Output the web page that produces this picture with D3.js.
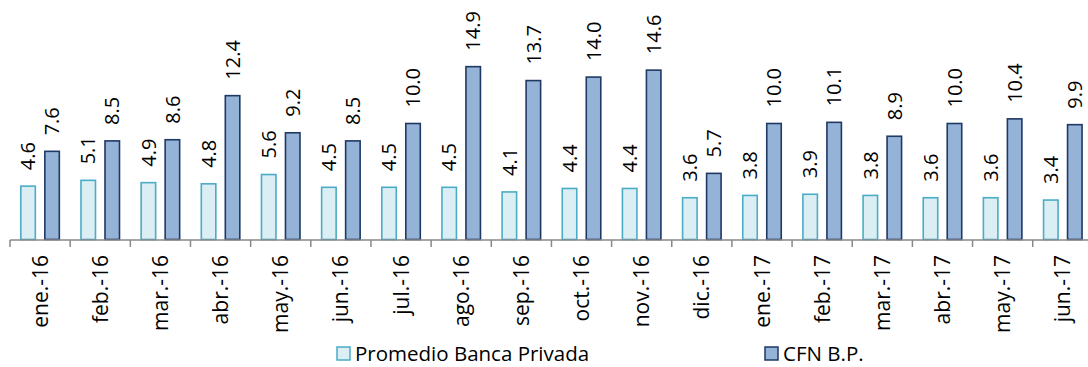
<!DOCTYPE html>
<html>
<head>
<meta charset="utf-8">
<script src="https://cdn.jsdelivr.net/npm/d3@7"></script>
<style>
  html, body { margin: 0; padding: 0; background: #fff; }
  svg { display: block; font-family: "Open Sans", "Liberation Sans", sans-serif; }
</style>
</head>
<body>
<svg id="chart" width="1088" height="367"></svg>
<script>
// Monthly categories
const categories = ["ene.-16", "feb.-16", "mar.-16", "abr.-16", "may.-16", "jun.-16",
  "jul.-16", "ago.-16", "sep.-16", "oct.-16", "nov.-16", "dic.-16",
  "ene.-17", "feb.-17", "mar.-17", "abr.-17", "may.-17", "jun.-17"];

// Series values
const seriesNames = ["Promedio Banca Privada", "CFN B.P."];
const promedioBancaPrivada = [4.6, 5.1, 4.9, 4.8, 5.6, 4.5, 4.5, 4.5, 4.1, 4.4, 4.4, 3.6, 3.8, 3.9, 3.8, 3.6, 3.6, 3.4];
const cfnBP = [7.6, 8.5, 8.6, 12.4, 9.2, 8.5, 10.0, 14.9, 13.7, 14.0, 14.6, 5.7, 10.0, 10.1, 8.9, 10.0, 10.4, 9.9];
const seriesValues = [promedioBancaPrivada, cfnBP];

const fills = ["#DAEEF3", "#95B3D7"];
const strokes = ["#4BACC6", "#1F3864"];

const svg = d3.select("#chart");

const step = 60.16;
const x0 = d3.scaleBand()
  .domain(categories)
  .range([10, 10 + step * categories.length])
  .padding(0);

const x1 = d3.scaleBand()
  .domain(seriesNames)
  .range([0, x0.bandwidth()])
  .paddingInner(1 / 3)
  .paddingOuter(0.42);

const y = d3.scaleLinear()
  .domain([0, 16])
  .range([239.5, 239.5 - 16 * 11.6]);

// Bars with value labels
const groups = svg.append("g")
  .selectAll("g")
  .data(categories)
  .join("g")
  .attr("transform", d => `translate(${x0(d)},0)`);

groups.each(function (cat, i) {
  const g = d3.select(this);
  seriesNames.forEach((s, k) => {
    const v = seriesValues[k][i];
    const bx = x1(s);
    const bw = x1.bandwidth();
    g.append("rect")
      .attr("x", bx + 0.75)
      .attr("y", y(v))
      .attr("width", bw - 1.5)
      .attr("height", y(0) - y(v))
      .attr("fill", fills[k])
      .attr("stroke", strokes[k])
      .attr("stroke-width", 1.6);
    g.append("text")
      .attr("transform", `translate(${bx + bw / 2},${y(v) - 16}) rotate(-90)`)
      .attr("text-anchor", "start")
      .attr("dy", "0.36em")
      .attr("font-size", 20)
      .attr("fill", "#000")
      .text(v.toFixed(1));
  });
});

// Category axis
const axisG = svg.append("g")
  .attr("transform", `translate(0,${y(0) + 0.5})`);

axisG.append("line")
  .attr("x1", x0.range()[0])
  .attr("x2", x0.range()[1])
  .attr("stroke", "#898989")
  .attr("stroke-width", 1.5);

axisG.selectAll("line.tick")
  .data(d3.range(categories.length + 1))
  .join("line")
  .attr("class", "tick")
  .attr("x1", i => x0.range()[0] + i * x0.step())
  .attr("x2", i => x0.range()[0] + i * x0.step())
  .attr("y1", 0)
  .attr("y2", 7)
  .attr("stroke", "#898989")
  .attr("stroke-width", 1.5);

axisG.selectAll("text.cat")
  .data(categories)
  .join("text")
  .attr("class", "cat")
  .attr("transform", d => `translate(${x0(d) + x0.bandwidth() / 2},15) rotate(-90)`)
  .attr("text-anchor", "end")
  .attr("dy", "0.36em")
  .attr("font-size", 21)
  .attr("fill", "#000")
  .text(d => d);

// Legend
const legendX = [337, 765];
const legend = svg.append("g");
seriesNames.forEach((s, k) => {
  legend.append("rect")
    .attr("x", legendX[k])
    .attr("y", 347)
    .attr("width", 13)
    .attr("height", 13)
    .attr("fill", fills[k])
    .attr("stroke", strokes[k])
    .attr("stroke-width", 1.5);
  legend.append("text")
    .attr("x", legendX[k] + 18)
    .attr("y", 361)
    .attr("font-size", 20.5)
    .attr("fill", "#000")
    .text(s);
});
</script>
</body>
</html>
